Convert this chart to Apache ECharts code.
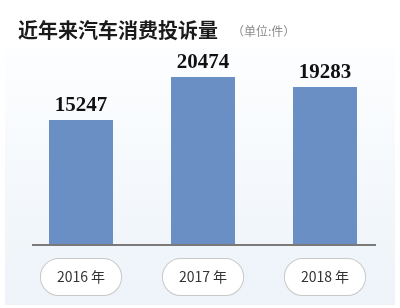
<!DOCTYPE html>
<html><head><meta charset="utf-8">
<script src="https://cdn.jsdelivr.net/npm/echarts@6/dist/echarts.min.js"></script>
<style>html,body{margin:0;padding:0;background:#fff}#c{width:400px;height:308px}</style>
</head><body><div id="c"></div>
<script>
var categories = ['2016 年', '2017 年', '2018 年'];
var values = [15247, 20474, 19283];
var titleText = '近年来汽车消费投诉量';
var unitText = '（单位:件）';

var chart = echarts.init(document.getElementById('c'), null, {renderer: 'canvas'});
chart.setOption({
  animation: false,
  backgroundColor: '#ffffff',
  graphic: [
    {type: 'rect', z: -10, shape: {x: 5, y: 48, width: 390, height: 257},
     style: {fill: new echarts.graphic.LinearGradient(0, 0, 0, 1, [
       {offset: 0, color: '#fdfeff'}, {offset: 1, color: '#edf3f9'}])}},
    {type: 'text', left: 18, top: 20, z: 10,
     style: {text: titleText, font: 'bold 20px "Noto Sans CJK SC"', fill: '#1a1a1a'}},
    {type: 'text', left: 232, top: 25, z: 10,
     style: {text: unitText, font: '12px "Noto Sans CJK SC"', fill: '#8a8a8a'}},
    {type: 'line', z: 5, shape: {x1: 32, y1: 245, x2: 376, y2: 245},
     style: {stroke: '#7a7a7a', lineWidth: 2}}
  ],
  grid: {left: 20, right: 14, top: 40, bottom: 63},
  xAxis: {
    type: 'category', data: categories,
    axisLine: {show: false}, axisTick: {show: false},
    axisLabel: {
      margin: 14, color: '#333', fontSize: 14, fontFamily: '"Noto Sans CJK SC"',
      backgroundColor: '#fff', borderColor: '#c8c8c8', borderWidth: 1,
      borderRadius: 18, padding: [10, 16], lineHeight: 16
    }
  },
  yAxis: {type: 'value', min: 0, max: 25000, show: false, splitLine: {show: false}},
  series: [{
    type: 'bar', data: values, barWidth: 64,
    itemStyle: {color: '#6a8fc4'},
    label: {show: true, position: 'top', distance: 4, color: '#111',
      fontSize: 21, fontWeight: 'bold', fontFamily: '"Liberation Serif"'}
  }]
});
</script></body></html>
